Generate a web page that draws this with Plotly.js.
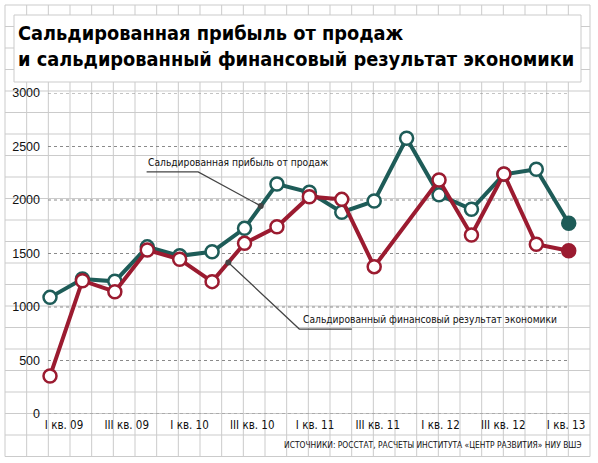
<!DOCTYPE html>
<html>
<head>
<meta charset="utf-8">
<script src="https://cdn.plot.ly/plotly-3.0.1.min.js"></script>
<style>
  html, body { margin: 0; padding: 0; background: #fff; }
  #chart { width: 598px; height: 463px; }
</style>
</head>
<body>
<div id="chart"></div>
<script>
// ---- data ----
const quarters = ["I кв. 09","II кв. 09","III кв. 09","IV кв. 09",
                  "I кв. 10","II кв. 10","III кв. 10","IV кв. 10",
                  "I кв. 11","II кв. 11","III кв. 11","IV кв. 11",
                  "I кв. 12","II кв. 12","III кв. 12","IV кв. 12",
                  "I кв. 13"];
const salesProfit = [1090, 1262, 1240, 1562, 1478, 1516, 1735, 2150,
                     2072, 1886, 1990, 2577, 2048, 1913, 2240, 2287, 1782];
const financialResult = [355, 1246, 1143, 1533, 1446, 1237, 1595, 1750,
                         2031, 2006, 1377, null, 2187, 1673, 2243, 1586, 1526];
const tickIdx = [0, 2, 4, 6, 8, 10, 12, 14, 16];
const tickLabels = ["I кв. 09","III кв. 09","I кв. 10","III кв. 10","I кв. 11",
                    "III кв. 11","I кв. 12","III кв. 12","I кв. 13"];
const yTicks = [0, 500, 1000, 1500, 2000, 2500, 3000];
const titleText = "Сальдированная прибыль от продаж<br>и сальдированный финансовый результат экономики";
const label1 = "Сальдированная прибыль от продаж";
const label2 = "Сальдированный финансовый результат экономики";
const sourceText = "ИСТОЧНИКИ: РОССТАТ, РАСЧЕТЫ ИНСТИТУТА «ЦЕНТР РАЗВИТИЯ» НИУ ВШЭ";

// ---- styles ----
const TEAL = "#1e5c58";
const RED = "#9b1b30";
const SANS = "'Liberation Sans', Arial, sans-serif";
const COND = "'DejaVu Sans Condensed', 'Liberation Sans', sans-serif";
const W = 598, H = 463;
const M = {l: 48, r: 8, t: 93, b: 49};
const PW = W - M.l - M.r, PH = H - M.t - M.b;
const UX = 32.42, UX2 = 31.375;
const xs = quarters.map((_, i) => i);

function markerColors(vals, c) {
  return vals.map((v, i) => i === vals.length - 1 ? c : "#ffffff");
}

const traces = [
  {
    x: xs, y: salesProfit, type: "scatter", mode: "lines+markers",
    line: {color: TEAL, width: 4},
    marker: {size: 13, color: markerColors(salesProfit, TEAL), line: {color: TEAL, width: 2.5}},
    cliponaxis: false, hoverinfo: "skip", showlegend: false
  },
  {
    x: xs, y: financialResult, type: "scatter", mode: "lines+markers",
    connectgaps: true,
    line: {color: RED, width: 4},
    marker: {size: 13, color: markerColors(financialResult, RED), line: {color: RED, width: 2.5}},
    cliponaxis: false, hoverinfo: "skip", showlegend: false
  },
  {
    x: [tickIdx[0]], y: [0], xaxis: "x2", type: "scatter", mode: "markers",
    marker: {opacity: 0}, hoverinfo: "skip", showlegend: false
  }
];

// background "graph paper" (decoration, in paper coordinates)
const shapes = [];
const px2x = p => (p - M.l) / PW;
const py2y = p => (H - M.b - p) / PH;
const GRID = "#cbcbcb";
for (let k = 0; k <= 27; k++) {
  const gx = 5 + 21.667 * k;
  shapes.push({type: "line", xref: "paper", yref: "paper", layer: "below",
    x0: px2x(gx), x1: px2x(gx), y0: py2y(5), y1: py2y(456.5),
    line: {color: GRID, width: 1}});
}
for (let k = 0; k <= 21; k++) {
  const gy = 5 + 21.5 * k;
  shapes.push({type: "line", xref: "paper", yref: "paper", layer: "below",
    x0: px2x(5), x1: px2x(590), y0: py2y(gy), y1: py2y(gy),
    line: {color: GRID, width: 1}});
}
// white title card
shapes.push({type: "rect", xref: "paper", yref: "paper", layer: "below",
  x0: px2x(14), x1: px2x(581), y0: py2y(15), y1: py2y(82),
  fillcolor: "#ffffff", line: {color: GRID, width: 1}});

// dotted value gridlines (at the y ticks, ending short of the right edge)
yTicks.forEach(v => {
  shapes.push({type: "line", xref: "paper", yref: "y", layer: "below",
    x0: 0, x1: px2x(567), y0: v, y1: v,
    line: {color: "#8a8a8a", width: 1, dash: "dot"}});
});

// leader lines for the labels (data coordinates)
const LEAD = "#444444";
shapes.push({type: "path", xref: "x", yref: "y", layer: "above",
  path: "M 2.98 2262 L 4.57 2262 L 6.5 1945", line: {color: LEAD, width: 1.2}});
shapes.push({type: "circle", xref: "x", yref: "y", layer: "above",
  xsizemode: "pixel", ysizemode: "pixel", xanchor: 6.5, yanchor: 1945,
  x0: -3, x1: 3, y0: -3, y1: 3, fillcolor: LEAD, line: {color: LEAD, width: 0}});
shapes.push({type: "path", xref: "x", yref: "y", layer: "above",
  path: "M 5.5 1416 L 7.69 794 L 9.31 794", line: {color: LEAD, width: 1.2}});
shapes.push({type: "circle", xref: "x", yref: "y", layer: "above",
  xsizemode: "pixel", ysizemode: "pixel", xanchor: 5.5, yanchor: 1416,
  x0: -3, x1: 3, y0: -3, y1: 3, fillcolor: LEAD, line: {color: LEAD, width: 0}});

const layout = {
  width: W, height: H,
  margin: M,
  paper_bgcolor: "#ffffff",
  plot_bgcolor: "rgba(0,0,0,0)",
  showlegend: false,
  title: {
    text: titleText,
    font: {family: "'DejaVu Sans Condensed', 'DejaVu Sans', sans-serif", size: 19.8, color: "#000", weight: "bold"},
    xref: "container", yref: "container",
    x: 18 / W, xanchor: "left",
    y: 1 - 40 / H, yanchor: "top"
  },
  xaxis: {
    range: [-2 / UX, (PW - 2) / UX],
    showticklabels: false, showgrid: false, zeroline: false, showline: false,
    fixedrange: true
  },
  xaxis2: {
    overlaying: "x", anchor: "y", side: "bottom",
    range: [-16 / UX2, (PW - 16) / UX2],
    tickmode: "array", tickvals: tickIdx, ticktext: tickLabels,
    showgrid: false, zeroline: false, showline: false, ticks: "",
    tickfont: {family: COND, size: 11.5, color: "#111"},
    ticklabelstandoff: 2,
    fixedrange: true
  },
  yaxis: {
    range: [0, 3000],
    tickmode: "array", tickvals: yTicks,
    showgrid: false,
    zeroline: false, showline: false, ticks: "",
    tickfont: {family: SANS, size: 12.5, color: "#111"},
    ticklabelstandoff: 7,
    fixedrange: true
  },
  shapes: shapes,
  annotations: [
    {x: 2.95, y: 2349, xref: "x", yref: "y", text: label1, showarrow: false,
     xanchor: "left", yanchor: "middle",
     font: {family: COND, size: 10.2, color: "#111"}},
    {x: 7.73, y: 879, xref: "x", yref: "y", text: label2, showarrow: false,
     xanchor: "left", yanchor: "middle",
     font: {family: COND, size: 10.2, color: "#111"}},
    {x: px2x(584), y: py2y(445), xref: "paper", yref: "paper", text: sourceText,
     showarrow: false, xanchor: "right", yanchor: "middle",
     font: {family: COND, size: 8.4, color: "#111"}}
  ]
};

Plotly.newPlot("chart", traces, layout, {displayModeBar: false, staticPlot: true});
</script>
</body>
</html>
